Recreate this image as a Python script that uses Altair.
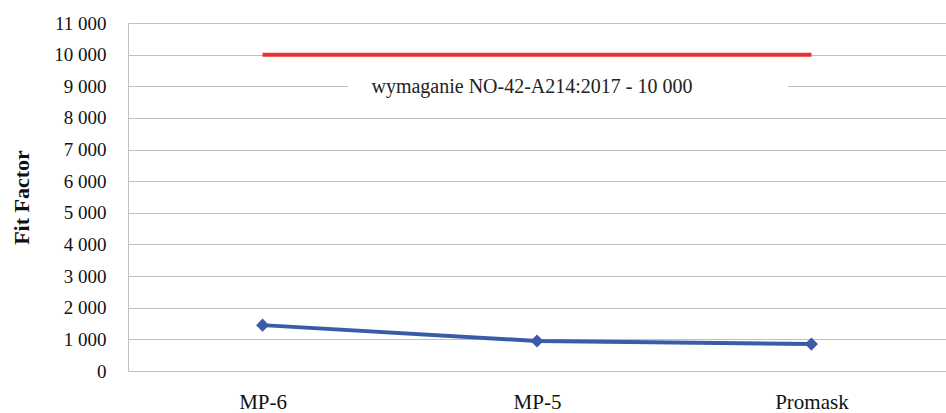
import altair as alt
import pandas as pd

categories = ["MP-6", "MP-5", "Promask"]
fit_factor = [1450, 950, 850]
requirement = 10000
req_label = "wymaganie NO-42-A214:2017 - 10 000"
y_ticks = list(range(0, 11001, 1000))

df = pd.DataFrame({"cat": categories, "v": fit_factor})
req_df = pd.DataFrame({"cat": [categories[0], categories[-1]], "v": [requirement, requirement]})
lab_df = pd.DataFrame({"cat": [categories[1]], "v": [9000], "t": [req_label]})

FONT = "Liberation Serif"

xscale = alt.Scale(type="point", domain=categories, padding=0.4904)
yscale = alt.Scale(domain=[0, 11000], nice=False)

xaxis = alt.Axis(title=None, grid=False, ticks=False, labelPadding=20,
                 labelFont=FONT, labelFontSize=21, labelColor="#111",
                 domainColor="#c0c0c0", labelAngle=0)
yaxis = alt.Axis(values=y_ticks, title="Fit Factor", titleFont=FONT, titleFontSize=22,
                 titleFontWeight="bold", titleColor="#111", titleX=-107, titleBaseline="middle",
                 titleAngle=-90, titleY=174, labelOverlap=False,
                 labelFont=FONT, labelFontSize=19, labelColor="#111", labelPadding=22,
                 labelExpr="replace(format(datum.value, ','), ',', ' ')",
                 ticks=False, grid=True, gridColor="#c0c0c0", gridWidth=1.2,
                 domainColor="#c0c0c0")

X = alt.X("cat:N", scale=xscale, sort=categories, axis=xaxis)
Y = alt.Y("v:Q", scale=yscale, axis=yaxis)

backdrop = alt.Chart(lab_df).mark_tick(color="white", opacity=1, size=440, thickness=8,
                                       xOffset=31, orient="horizontal").encode(x=X, y=Y)

label = alt.Chart(lab_df).mark_text(font=FONT, fontSize=20, color="#222", dx=-5, dy=1,
                                    baseline="middle").encode(x=X, y=Y, text="t:N")

req = alt.Chart(req_df).mark_line(color="#e8302f", strokeWidth=4).encode(x=X, y=Y)

line = alt.Chart(df).mark_line(color="#3a5ba8", strokeWidth=4).encode(x=X, y=Y)
pts = alt.Chart(df).mark_point(shape="diamond", filled=True, size=170, color="#3a5ba8",
                               opacity=1).encode(x=X, y=Y)

chart = alt.layer(line, backdrop, label, req, pts).properties(
    width=818, height=348,
    autosize=alt.AutoSizeParams(type="none"),
    padding={"left": 128, "top": 23, "right": 0, "bottom": 42},
).configure_view(stroke=None).configure(background="white")

chart.save("out.html", embed_options={"renderer": "svg", "actions": False})
